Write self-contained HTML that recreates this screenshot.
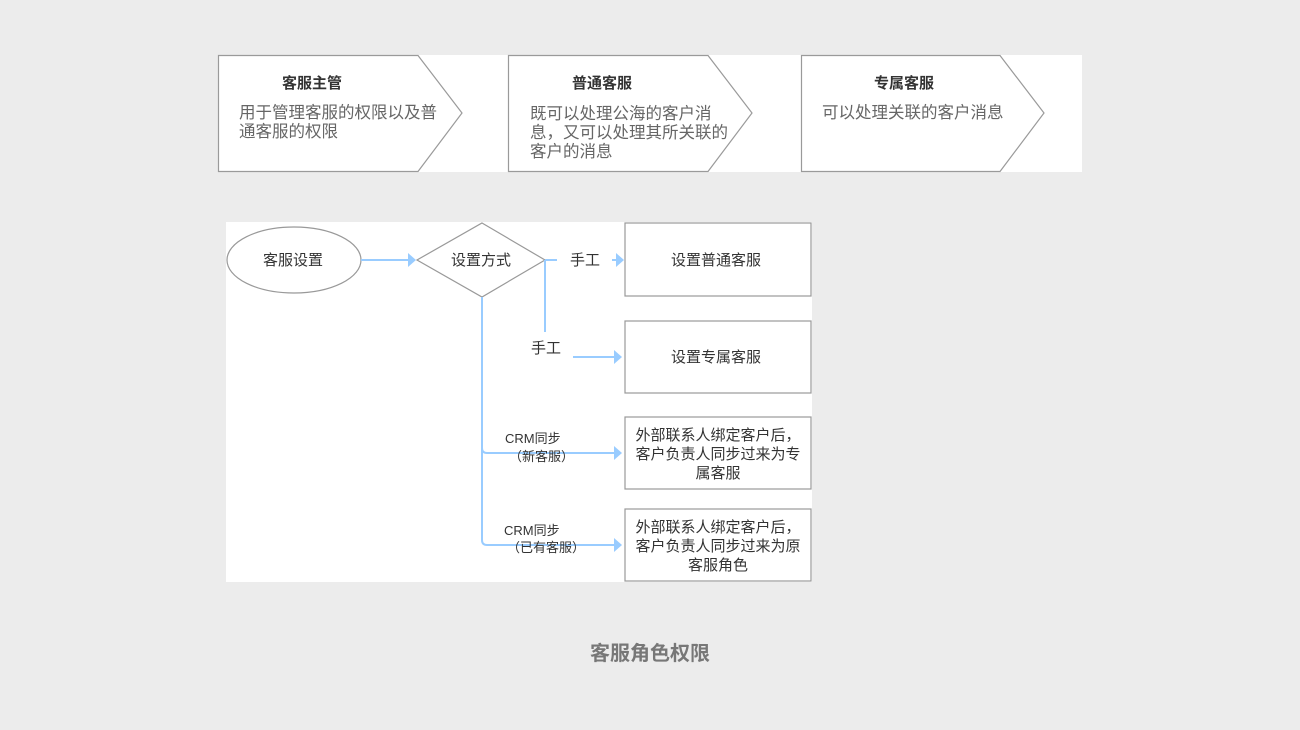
<!DOCTYPE html>
<html><head><meta charset="utf-8"><style>
body{margin:0;background:#ececec;}
svg{display:block;font-family:"Liberation Sans","Noto Sans CJK SC",sans-serif;}
</style></head><body>
<svg width="1300" height="730" viewBox="0 0 1300 730">
<rect x="0" y="0" width="1300" height="730" fill="#ececec"/>
<rect x="218" y="55" width="864" height="117" fill="#fff"/>
<g fill="#fff" stroke="#9a9a9a" stroke-width="1.2">
<path d="M218.5 55.5 H418 L462 113 L418 171.5 H218.5 Z"/>
<path d="M508.5 55.5 H708 L752 113 L708 171.5 H508.5 Z"/>
<path d="M801.5 55.5 H1000 L1044 113 L1000 171.5 H801.5 Z"/>
</g>
<g fill="#333" font-size="15" font-weight="bold">
<text x="282" y="88">客服主管</text>
<text x="572" y="88">普通客服</text>
<text x="874" y="88">专属客服</text>
</g>
<g fill="#666" font-size="16.5">
<text x="239" y="118">用于管理客服的权限以及普</text>
<text x="239" y="137">通客服的权限</text>
<text x="530" y="119">既可以处理公海的客户消</text>
<text x="530" y="138">息，又可以处理其所关联的</text>
<text x="530" y="157">客户的消息</text>
<text x="822" y="118">可以处理关联的客户消息</text>
</g>
<rect x="226" y="222" width="586" height="360" fill="#fff"/>
<g fill="#fff" stroke="#999" stroke-width="1.2">
<ellipse cx="294" cy="260" rx="67" ry="33"/>
<path d="M482 223 L545 260 L482 297 L417 260 Z"/>
<rect x="625" y="223" width="186" height="73"/>
<rect x="625" y="321" width="186" height="72"/>
<rect x="625" y="417" width="186" height="72"/>
<rect x="625" y="509" width="186" height="72"/>
</g>
<g stroke="#99ccff" stroke-width="2" fill="none">
<line x1="361" y1="260" x2="410" y2="260"/>
<line x1="545" y1="260" x2="557" y2="260"/>
<line x1="612" y1="260" x2="617" y2="260"/>
<line x1="545" y1="260" x2="545" y2="332"/>
<line x1="573" y1="357" x2="615" y2="357"/>
<path d="M482 297 V540 Q482 545 487 545 H615"/>
<path d="M482 448 Q482 453 487 453 H615"/>
</g>
<g fill="#99ccff">
<path d="M408 253 L416 260 L408 267 Z"/>
<path d="M616 253 L624 260 L616 267 Z"/>
<path d="M614 350 L622 357 L614 364 Z"/>
<path d="M614 446 L622 453 L614 460 Z"/>
<path d="M614 538 L622 545 L614 552 Z"/>
</g>
<g fill="#333" font-size="15">
<text x="263" y="265">客服设置</text>
<text x="451" y="265">设置方式</text>
<text x="570" y="265">手工</text>
<text x="531" y="353">手工</text>
<text x="671" y="265">设置普通客服</text>
<text x="671" y="362">设置专属客服</text>
</g>
<g fill="#333" font-size="13">
<text x="505" y="443">CRM同步</text>
<text x="509" y="461">（新客服）</text>
<text x="504" y="535">CRM同步</text>
<text x="507" y="552">（已有客服）</text>
</g>
<g fill="#333" font-size="15" text-anchor="middle">
<text x="718" y="440">外部联系人绑定客户后，</text>
<text x="718" y="459">客户负责人同步过来为专</text>
<text x="718" y="478">属客服</text>
<text x="718" y="532">外部联系人绑定客户后，</text>
<text x="718" y="551">客户负责人同步过来为原</text>
<text x="718" y="570">客服角色</text>
</g>
<text x="650" y="660" text-anchor="middle" font-size="20" font-weight="bold" fill="#777">客服角色权限</text>
</svg>
</body></html>
